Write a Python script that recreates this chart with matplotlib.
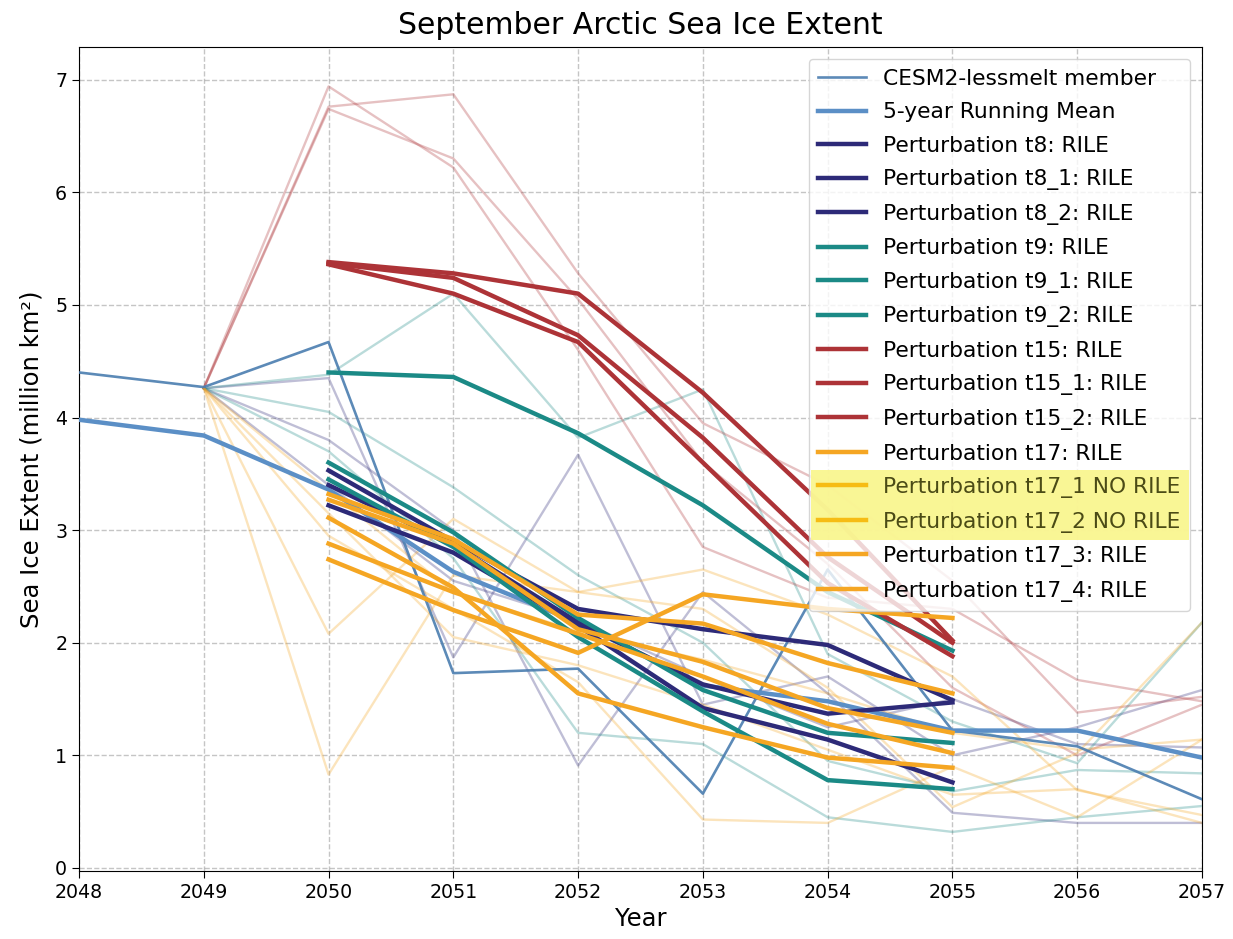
import matplotlib
matplotlib.use("Agg")
import matplotlib.pyplot as plt
from matplotlib.patches import Rectangle
from matplotlib.transforms import IdentityTransform

# ---- data -------------------------------------------------------------
years_cesm = list(range(2048, 2058))
cesm_member = [4.40, 4.27, 4.67, 1.73, 1.77, 0.66, 2.65, 1.22, 1.08, 0.61]
cesm_running_mean = [3.98, 3.84, 3.36, 2.63, 2.18, 1.62, 1.48, 1.22, 1.22, 0.98]

years_member = list(range(2049, 2058))
years_mean = list(range(2050, 2056))

perturbation_labels = [
    "Perturbation t8: RILE", "Perturbation t8_1: RILE", "Perturbation t8_2: RILE",
    "Perturbation t9: RILE", "Perturbation t9_1: RILE", "Perturbation t9_2: RILE",
    "Perturbation t15: RILE", "Perturbation t15_1: RILE", "Perturbation t15_2: RILE",
    "Perturbation t17: RILE", "Perturbation t17_1 NO RILE", "Perturbation t17_2 NO RILE",
    "Perturbation t17_3: RILE", "Perturbation t17_4: RILE",
]

# yearly values of each perturbation member, 2049-2057
perturbation_members = [
    [4.26, 3.80, 3.00, 0.91, 2.45, 1.55, 0.49, 0.40, 0.40],
    [4.26, 4.35, 1.87, 3.67, 1.45, 1.70, 1.00, 1.25, 1.58],
    [4.26, 3.40, 2.55, 2.20, 1.70, 1.25, 1.50, 1.10, 1.07],
    [4.26, 4.38, 5.10, 3.82, 4.25, 1.90, 1.30, 0.93, 2.18],
    [4.26, 4.05, 3.38, 2.60, 2.00, 0.95, 0.68, 0.87, 0.84],
    [4.26, 3.70, 2.75, 1.20, 1.10, 0.45, 0.32, 0.45, 0.55],
    [4.26, 6.94, 6.22, 4.60, 2.85, 2.40, 2.30, 1.67, 1.48],
    [4.26, 6.76, 6.87, 5.28, 3.95, 3.40, 2.55, 1.38, 1.52],
    [4.26, 6.74, 6.30, 5.05, 3.60, 2.70, 1.60, 1.00, 1.45],
    [4.26, 0.83, 2.60, 2.45, 2.65, 2.25, 1.70, 0.69, 0.47],
    [4.26, 2.08, 3.10, 2.45, 2.30, 1.60, 0.54, 1.02, 2.18],
    [4.26, 2.95, 2.30, 1.65, 0.43, 0.40, 0.90, 0.45, 1.14],
    [4.26, 3.15, 2.05, 1.80, 1.45, 1.05, 0.65, 0.70, 0.40],
    [4.26, 3.35, 2.45, 2.10, 1.85, 1.55, 1.20, 1.05, 1.14],
]

# 5-year running means of each perturbation, 2050-2055
perturbation_means = [
    [3.53, 2.90, 2.30, 2.12, 1.98, 1.49],
    [3.40, 2.87, 2.18, 1.63, 1.37, 1.47],
    [3.22, 2.80, 2.15, 1.42, 1.14, 0.76],
    [4.40, 4.36, 3.86, 3.22, 2.45, 1.93],
    [3.60, 2.98, 2.22, 1.58, 1.20, 1.11],
    [3.45, 2.85, 2.05, 1.39, 0.78, 0.70],
    [5.38, 5.28, 5.10, 4.22, 3.18, 2.02],
    [5.37, 5.24, 4.73, 3.82, 2.76, 2.00],
    [5.36, 5.10, 4.67, 3.60, 2.53, 1.88],
    [3.32, 2.92, 2.25, 2.17, 1.82, 1.55],
    [3.27, 2.88, 2.12, 1.83, 1.42, 1.20],
    [2.74, 2.29, 1.91, 2.43, 2.30, 2.22],
    [3.11, 2.49, 1.55, 1.25, 0.98, 0.89],
    [2.88, 2.45, 2.08, 1.70, 1.28, 1.02],
]

navy, teal, red, orange = "#2d2a78", "#1b8a86", "#ad3337", "#f5a623"
perturbation_colors = [navy] * 3 + [teal] * 3 + [red] * 3 + [orange] * 5
no_rile_entries = [12, 13]          # legend rows of the NO RILE runs

# ---- figure -----------------------------------------------------------
fig = plt.figure(figsize=(12.33, 9.39), dpi=100)
ax = fig.add_axes([79 / 1233, 1 - 871 / 939, (1202 - 79) / 1233, (871 - 47) / 939])

# faint individual members
for vals, col in zip(perturbation_members, perturbation_colors):
    ax.plot(years_member, vals, color=col, lw=1.7, alpha=0.3, zorder=2)

ax.plot(years_cesm, cesm_member, color="#4a7db0", lw=1.9, alpha=0.9, zorder=3,
        label="CESM2-lessmelt member")
ax.plot(years_cesm, cesm_running_mean, color="#5b8fc6", lw=3.2, zorder=4,
        label="5-year Running Mean")

# running means of the perturbation runs
for vals, col, lab in zip(perturbation_means, perturbation_colors, perturbation_labels):
    ax.plot(years_mean, vals, color=col, lw=3.2, zorder=5, label=lab)

ax.set_xlim(2048, 2057)
ax.set_ylim(-0.027, 7.29)
ax.set_xticks(range(2048, 2058))
ax.set_yticks(range(0, 8))
ax.tick_params(labelsize=13.7, length=5)
ax.grid(True, linestyle="--", color="gray", alpha=0.45, lw=1.0)

ax.set_title("September Arctic Sea Ice Extent", fontsize=21.5, pad=9)
ax.set_xlabel("Year", fontsize=17.5, labelpad=4)
ax.set_ylabel("Sea Ice Extent (million km²)", fontsize=17.5, labelpad=8)

leg = ax.legend(loc="upper right", fontsize=15.7, framealpha=0.8,
                borderaxespad=0.55, labelspacing=0.62, handlelength=2.2,
                handletextpad=0.75, borderpad=0.45)
leg.set_zorder(10)

# highlighter band behind the two NO RILE entries
hl_texts = [leg.get_texts()[i] for i in no_rile_entries]
for i in no_rile_entries:
    leg.get_texts()[i].set_color("#4b4b16")
    leg.get_lines()[i].set_color("#f6bc14")

_frame_draw = leg.legendPatch.draw


def _frame_with_highlight(renderer):
    _frame_draw(renderer)
    b1 = hl_texts[0].get_window_extent(renderer)
    b2 = hl_texts[1].get_window_extent(renderer)
    frame = leg.legendPatch.get_window_extent(renderer)
    x0 = frame.x0 + 2
    x1 = max(b1.x1, b2.x1) + 9
    y0 = min(b1.y0, b2.y0) - 7
    y1 = max(b1.y1, b2.y1) + 7
    band = Rectangle((x0, y0), x1 - x0, y1 - y0, transform=IdentityTransform(),
                     facecolor="#f9f58a", edgecolor="none", alpha=0.9)
    band.set_figure(fig)
    band.draw(renderer)


leg.legendPatch.draw = _frame_with_highlight

fig.canvas.draw()
fig.savefig("out.png", dpi=100)
